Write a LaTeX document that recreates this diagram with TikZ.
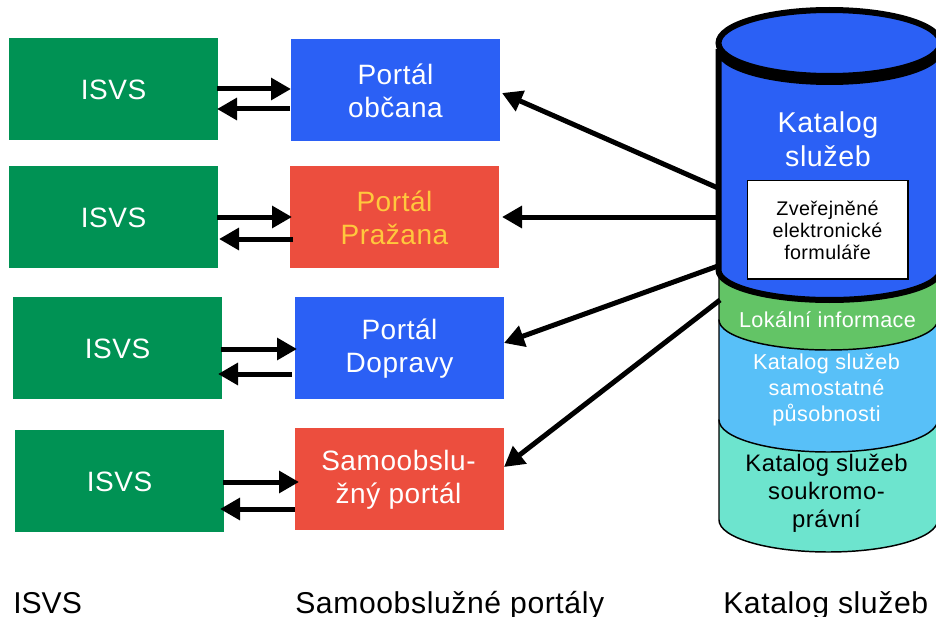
\documentclass[tikz,border=0pt]{standalone}
\usepackage{fontspec}
\setmainfont[LetterSpace=2]{Liberation Sans}
\newfontfamily\plainfont{Liberation Sans}
\usetikzlibrary{arrows.meta}
\definecolor{cgreen}{RGB}{0,146,84}
\definecolor{cblue}{RGB}{43,96,245}
\definecolor{cred}{RGB}{236,78,62}
\definecolor{cyellow}{RGB}{255,200,61}
\definecolor{clocal}{RGB}{99,196,102}
\definecolor{csky}{RGB}{88,192,248}
\definecolor{cteal}{RGB}{109,228,206}
\tikzset{
  x=0.75pt,y=-0.75pt,
  boxbase/.style={anchor=north west,minimum width=156.75pt,minimum height=76.5pt,inner sep=0pt,align=center,text=white,font=\fontsize{21}{24.8}\selectfont},
  isvsbox/.style={boxbase,fill=cgreen},
  bluebox/.style={boxbase,fill=cblue},
  redbox/.style={boxbase,fill=cred},
  boxtext/.style={inner sep=0pt,align=center,text=white,font=\fontsize{21}{24.8}\selectfont},
  link/.style={line width=3.75pt,-{Triangle[length=15pt,width=16pt]}},
  layer/.style={draw=black,line width=1.1pt},
  lay/.style={align=center,inner sep=0pt},
  caption/.style={anchor=base west,inner sep=0pt,font=\fontsize{22.6}{25}\selectfont}
}
\begin{document}
\begin{tikzpicture}
\useasboundingbox (0,0) rectangle (936,617);
\begin{scope}
\clip (0,0) rectangle (936,617);
% catalog cylinder
\draw[layer,fill=cteal] (719,420) -- (719,520) arc[start angle=180,end angle=360,x radius=82pt,y radius=24pt] -- (938,420) -- cycle;
\draw[layer,fill=csky] (719,320) -- (719,420) arc[start angle=180,end angle=360,x radius=82pt,y radius=24pt] -- (938,320) -- cycle;
\draw[layer,fill=clocal] (719,270) -- (719,320) arc[start angle=180,end angle=360,x radius=82pt,y radius=22.5pt] -- (938,270) -- cycle;
\draw[line width=4.5pt,fill=cblue] (718.5,49) -- (718.5,270) arc[start angle=180,end angle=360,x radius=83.25pt,y radius=22.5pt] -- (940.5,49) arc[start angle=0,end angle=-180,x radius=83.25pt,y radius=24.75pt] -- cycle;
\fill[black] (829.5,49) ellipse[x radius=83.25pt,y radius=24.75pt];
\draw[line width=4.5pt,fill=cblue] (829.5,43) ellipse[x radius=83.25pt,y radius=24.75pt];
\end{scope}
\node[lay,text=white,font=\fontsize{21.5}{25.5}\selectfont] (katalog) at (828,139) {Katalog\\služeb};
\node[draw=black,line width=1pt,fill=white,minimum width=120.5pt,minimum height=74pt,inner sep=0pt] (form) at (827.5,229.5) {};
\node[lay,font=\fontsize{14.8}{16.5}\selectfont] (formtext) at (827.5,230.5) {Zveřejněné\\elektronické\\formuláře};
\node[lay,text=white,font=\fontsize{16.2}{18}\selectfont] (lokal) at (827.5,320) {Lokální informace};
\node[lay,text=white,font=\fontsize{16.2}{19.5}\selectfont] (samo) at (826.5,389.5) {Katalog služeb\\samostatné\\působnosti};
\node[lay,text=black,font=\fontsize{17.9}{21}\selectfont] (soukr) at (826.5,493) {Katalog služeb\\soukromo-\\právní};
% boxes
\node[isvsbox] (i1) at (9,38) {};
\node[isvsbox] (i2) at (9,166) {};
\node[isvsbox] (i3) at (13,297) {};
\node[isvsbox] (i4) at (15,430) {};
\node[bluebox] (p1) at (291,39) {};
\node[redbox] (p2) at (290,166) {};
\node[bluebox] (p3) at (295,297) {};
\node[redbox] (p4) at (295,428) {};
\node[boxtext] (ti1) at (113.5,90) {ISVS};
\node[boxtext] (ti2) at (113.5,218) {ISVS};
\node[boxtext] (ti3) at (117.5,349) {ISVS};
\node[boxtext] (ti4) at (119.5,482) {ISVS};
\node[boxtext] (tp1) at (395.5,90.5) {Portál\\občana};
\node[boxtext,text=cyellow] (tp2) at (394.5,217.5) {Portál\\Pražana};
\node[boxtext] (tp3) at (399.5,349) {Portál\\Dopravy};
\node[boxtext] (tp4) at (398.5,480) {Samoobslu-\\žný portál};
% connector ends
\coordinate (a1s) at (217,89);  \coordinate (a1e) at (291,89);
\coordinate (b1s) at (290,109); \coordinate (b1e) at (217,109);
\coordinate (a2s) at (217,217); \coordinate (a2e) at (292,217);
\coordinate (b2s) at (293,239); \coordinate (b2e) at (219,239);
\coordinate (a3s) at (221,349); \coordinate (a3e) at (297,349);
\coordinate (b3s) at (292,374); \coordinate (b3e) at (218,374);
\coordinate (a4s) at (223,482); \coordinate (a4e) at (299,482);
\coordinate (b4s) at (295,509); \coordinate (b4e) at (220,509);
\coordinate (c1s) at (718,188); \coordinate (c1e) at (502,93);
\coordinate (c2s) at (718,217); \coordinate (c2e) at (502,217);
\coordinate (c3s) at (718,266); \coordinate (c3e) at (504,343);
\coordinate (c4s) at (720,300); \coordinate (c4e) at (504,467);
\foreach \n in {a1,b1,a2,b2,a3,b3,a4,b4,c1,c2,c3,c4}
  \draw[link] (\n s) -- (\n e);
% captions
\node[caption] (t1) at (13,613) {\plainfont ISVS};
\node[caption] (t2) at (295,613) {Samoobslužné portály};
\node[caption] (t3) at (723,613) {Katalog služeb};
\end{tikzpicture}
\end{document}
